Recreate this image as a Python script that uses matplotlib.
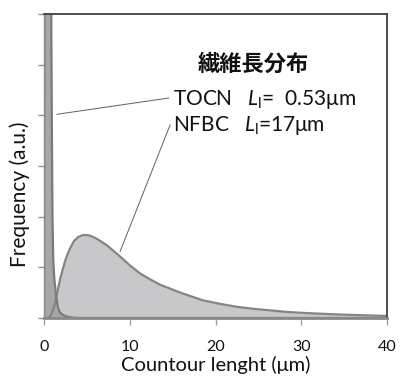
import matplotlib
matplotlib.use("Agg")
import matplotlib.pyplot as plt

plt.rcParams['font.family'] = ['Lato', 'DejaVu Sans']
plt.rcParams['mathtext.fontset'] = 'custom'
plt.rcParams['mathtext.rm'] = 'Lato'
plt.rcParams['mathtext.it'] = 'Lato:italic'

# Data (contour length in um, frequency a.u.)
tocn_x = [0, 0.02, 0.05, 0.1, 0.2, 0.35, 0.5, 0.65, 0.78, 0.86, 0.93, 0.99, 1.08, 1.2, 1.34, 1.5, 1.67, 1.9, 2.2, 2.6, 3.2, 4.2, 40]
tocn_y = [0, 3.0, 8.0, 15.0, 24.0, 30.0, 30.0, 22.0, 10.0, 5.5, 3.4, 2.0, 1.14, 0.78, 0.55, 0.33, 0.18, 0.10, 0.06, 0.03, 0.01, 0.0, 0.0]

nfbc_x = [0.4, 0.7, 0.9, 1.1, 1.28, 1.5, 1.7, 1.9, 2.2, 2.45, 2.75, 3.0, 3.5, 4.0, 4.6, 5.3, 6.1, 7.3, 8.9, 10.0, 11.2, 12.3, 13.5, 15.9, 18.5, 20.5, 22.5, 24.5, 26.4, 28.3, 30.2, 34.2, 37.0, 40.0]
nfbc_y = [0.0, 0.03, 0.09, 0.18, 0.29, 0.47, 0.63, 0.78, 0.97, 1.12, 1.26, 1.36, 1.52, 1.60, 1.64, 1.63, 1.57, 1.44, 1.21, 1.04, 0.88, 0.77, 0.66, 0.50, 0.35, 0.28, 0.22, 0.18, 0.15, 0.12, 0.10, 0.07, 0.055, 0.04]

x_ticks = [0, 10, 20, 30, 40]
y_ticks = [0, 1, 2, 3, 4, 5, 6]

title_text = "繊維長分布"
tocn_label = "TOCN   $\\mathit{L}_{\\mathrm{l}}$=  0.53μm"
nfbc_label = "NFBC   $\\mathit{L}_{\\mathrm{l}}$=17μm"
xlabel = "Countour lenght (μm)"
ylabel = "Frequency (a.u.)"

fig = plt.figure(figsize=(4.0, 3.79), dpi=100)
ax = fig.add_axes([0.11, 0.161, 0.8575, 0.802])

ax.fill_between(nfbc_x, nfbc_y, 0, color='#c8c8ca', lw=0, zorder=2)
ax.fill_between(tocn_x, tocn_y, 0, color='#a7a7aa', lw=0, zorder=3)
ax.plot(nfbc_x, nfbc_y, color='#858585', lw=1.6, zorder=4)
ax.plot(tocn_x, tocn_y, color='#7a7a7a', lw=1.6, zorder=5)

ax.set_xlim(0, 40)
ax.set_ylim(0, 6)
ax.set_xticks(x_ticks)
ax.set_yticks(y_ticks)
ax.set_yticklabels([])
ax.tick_params(axis='x', direction='out', length=5, width=1, color='#a0a0a0',
               labelsize=11.5, pad=11, labelcolor='#111111')
ax.tick_params(axis='y', direction='out', length=4, width=1, color='#909090')

for s in ['top', 'right']:
    ax.spines[s].set_color('#404040')
    ax.spines[s].set_linewidth(1.3)
ax.spines['bottom'].set_color('#8a8a8a')
ax.spines['bottom'].set_linewidth(2.0)
ax.spines['left'].set_color('#8a8a8a')
ax.spines['left'].set_linewidth(1.0)
for s in ax.spines.values():
    s.set_zorder(6)

ax.set_xlabel(xlabel, fontsize=14.5, labelpad=1.5, color='#111111')
fig.text(0.05, 1 - 194 / 379, ylabel, rotation=90, fontsize=15,
         ha='center', va='center', color='#111111')

ax.text(24.4, 5.01, title_text, fontsize=16, fontweight='bold',
        family=['Noto Sans CJK JP'], ha='center', va='center', color='#111111')

ax.annotate(tocn_label, xy=(1.48, 4.02), xytext=(15.04, 4.2),
            fontsize=15, va='baseline', ha='left', color='#111111',
            arrowprops=dict(arrowstyle='-', color='#606060', lw=0.7,
                            shrinkA=1, shrinkB=0, relpos=(0, 0.6)), zorder=7)
ax.annotate(nfbc_label, xy=(8.87, 1.31), xytext=(15.1, 3.69),
            fontsize=15, va='baseline', ha='left', color='#111111',
            arrowprops=dict(arrowstyle='-', color='#606060', lw=0.7,
                            shrinkA=1, shrinkB=0, relpos=(0, 0.9)), zorder=7)

fig.savefig("out.png", dpi=100)
